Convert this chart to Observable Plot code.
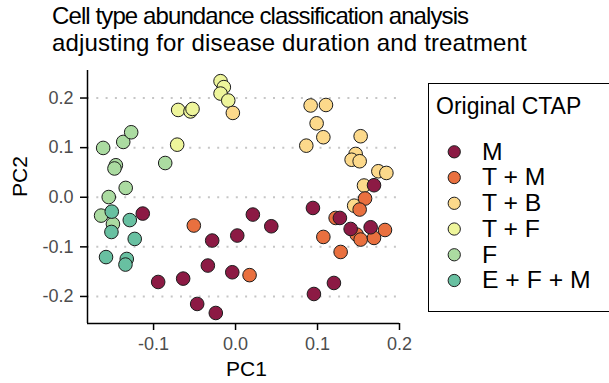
<!DOCTYPE html>
<html>
<head>
<meta charset="utf-8">
<script src="https://cdn.jsdelivr.net/npm/d3@7"></script>
<script src="https://cdn.jsdelivr.net/npm/@observablehq/plot@0.6"></script>
<style>
  body { margin:0; background:#fff; font-family:"Liberation Sans", Arial, sans-serif; }
  #wrap { position:relative; width:609px; height:383px; overflow:hidden; }
  #title { position:absolute; left:52px; top:2px; font-size:24px; line-height:27px; color:#000; white-space:nowrap; }
  #t1 { letter-spacing:-0.9px; }
  #t2 { letter-spacing:0.15px; }
  #chart { position:absolute; left:0; top:0; }
  #legend { position:absolute; left:428px; top:83px; width:200px; height:229px; border:1.5px solid #000; box-sizing:border-box; }
  #legtitle { position:absolute; left:7px; top:9px; font-size:23px; color:#000; white-space:nowrap; }
  #legplot { position:absolute; left:0; top:0; line-height:0; }
</style>
</head>
<body>
<div id="wrap">
  <div id="chart"></div>
  <div id="title"><span id="t1">Cell type abundance classification analysis</span><br><span id="t2">adjusting for disease duration and treatment</span></div>
  <div id="legend"><div id="legplot"></div><div id="legtitle">Original CTAP</div></div>
</div>
<script>
const groups = ["M", "T + M", "T + B", "T + F", "F", "E + F + M"];
const colors = ["#8c1a44", "#e9703f", "#fcd98b", "#eef59b", "#abdba1", "#68c0a1"];
const legendTitle = "Original CTAP";
const xTicks = [-0.1, 0.0, 0.1, 0.2];
const yTicks = [-0.2, -0.1, 0.0, 0.1, 0.2];
const xDomain = [-0.1806, 0.2];
const yDomain = [-0.2545, 0.2555];

// PC coordinates per group
const fX   = [-0.1615, -0.137, -0.1273, -0.146, -0.1477, -0.0858, -0.134, -0.1547, -0.164, -0.1496];
const fY   = [0.0994, 0.1115, 0.131, 0.0645, 0.058, 0.069, 0.0188, 0.0004, -0.037, -0.054];
const efmX = [-0.151, -0.129, -0.1514, -0.123, -0.158, -0.1327, -0.1343];
const efmY = [-0.029, -0.046, -0.070, -0.084, -0.1206, -0.1244, -0.1357];
const tfX  = [-0.070, -0.055, -0.0525, -0.0712, -0.0183, -0.0143, -0.0183, -0.0089];
const tfY  = [0.176, 0.173, 0.178, 0.106, 0.234, 0.222, 0.209, 0.195];
const tbX  = [-0.0033, 0.0916, 0.1103, 0.0989, 0.1071, 0.0863, 0.1526, 0.1465, 0.1416, 0.1514, 0.1742, 0.184, 0.1567, 0.1447];
const tbY  = [0.170, 0.185, 0.186, 0.149, 0.121, 0.104, 0.123, 0.0873, 0.0756, 0.0726, 0.0524, 0.049, 0.0236, -0.017];
const tmX  = [0.158, 0.1514, 0.1221, 0.1477, 0.1526, 0.1689, 0.1823, 0.1071, 0.1282, 0.0171, -0.0509];
const tmY  = [-0.0026, -0.0248, -0.0417, -0.0752, -0.0853, -0.082, -0.066, -0.080, -0.1103, -0.157, -0.057];
const mX   = [-0.1132, 0.0211, 0.0436, -0.0285, 0.0021, -0.0338, -0.004, -0.0944, -0.0639, -0.0468, -0.0241, 0.0944, 0.1273, 0.1404, 0.1648, 0.1689, 0.12, 0.0956];
const mY   = [-0.0329, -0.0349, -0.0585, -0.0873, -0.0772, -0.1377, -0.1512, -0.1708, -0.164, -0.2151, -0.2333, -0.0216, -0.0417, -0.0639, -0.0605, 0.0242, -0.1728, -0.195];

// draw order (later on top)
const series = [
  ["F", fX, fY], ["E + F + M", efmX, efmY], ["T + F", tfX, tfY],
  ["T + B", tbX, tbY], ["T + M", tmX, tmY], ["M", mX, mY]
];
const points = series.flatMap(([g, xs, ys]) => xs.map((x, i) => ({group: g, x, y: ys[i]})));

const font = '"Liberation Sans", Arial, sans-serif';
const fmt = d => d.toFixed(1);

const chart = Plot.plot({
  width: 420, height: 383,
  marginLeft: 87, marginRight: 21, marginTop: 70, marginBottom: 60,
  style: {fontFamily: font, background: "white"},
  x: {domain: xDomain},
  y: {domain: yDomain},
  color: {domain: groups, range: colors},
  marks: [
    Plot.ruleY(yTicks, {stroke: "#c6c6c6", strokeWidth: 2, strokeDasharray: "2,7.3"}),
    Plot.dot(points, {x: "x", y: "y", fill: "group", r: 6.8, stroke: "#1c1c1c", strokeWidth: 1}),
    Plot.ruleX([xDomain[0]], {stroke: "black", strokeWidth: 1.5}),
    Plot.ruleY([yDomain[0]], {stroke: "black", strokeWidth: 1.5}),
    Plot.axisX({ticks: xTicks, tickFormat: fmt, tickSize: 7, tickPadding: 7, fontSize: 18, stroke: "black", strokeWidth: 1.5, fill: "#4d4d4d", label: null}),
    Plot.axisY({ticks: yTicks, tickFormat: fmt, tickSize: 7, tickPadding: 7, fontSize: 18, stroke: "black", strokeWidth: 1.5, fill: "#4d4d4d", label: null}),
    Plot.text(["PC1"], {frameAnchor: "bottom", dy: 52, dx: 3, fontSize: 21, fill: "black"}),
    Plot.text(["PC2"], {frameAnchor: "left", dx: -67, rotate: -90, fontSize: 21, fill: "black"})
  ]
});
document.getElementById("chart").appendChild(chart);

const leg = Plot.plot({
  width: 200, height: 229,
  margin: 0,
  style: {fontFamily: font, background: "transparent"},
  x: {axis: null, domain: [0, 1]},
  y: {type: "point", domain: groups, range: [66.5, 198.5], padding: 0, axis: null},
  color: {domain: groups, range: colors},
  marks: [
    Plot.dot(groups, {y: d => d, fill: d => d, frameAnchor: "left", dx: 25, r: 6.2, stroke: "#1c1c1c", strokeWidth: 1}),
    Plot.text(groups, {y: d => d, text: d => d, frameAnchor: "left", dx: 53, textAnchor: "start", fontSize: 25, fill: "black"})
  ]
});
document.getElementById("legplot").appendChild(leg);
</script>
</body>
</html>
